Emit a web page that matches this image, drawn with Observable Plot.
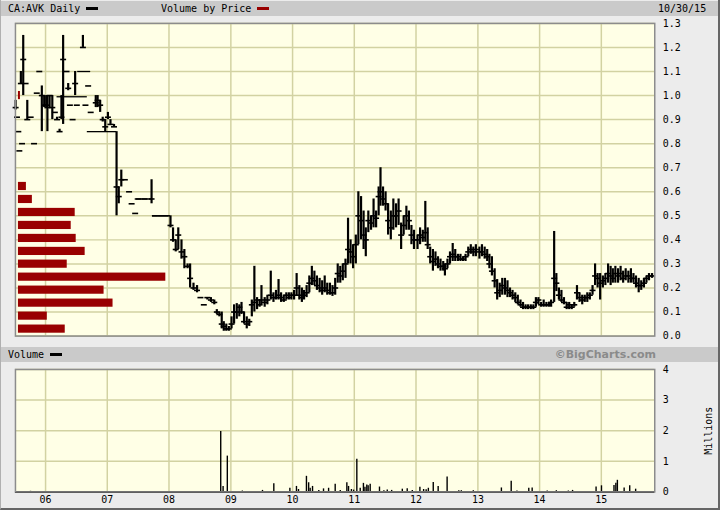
<!DOCTYPE html>
<html>
<head>
<meta charset="utf-8">
<script src="https://cdn.jsdelivr.net/npm/d3@7"></script>
<script src="https://cdn.jsdelivr.net/npm/@observablehq/plot@0.6"></script>
<style>
  body { margin: 0; background: #ececec; }
  #wrap { position: relative; width: 717px; height: 508px; background: #ececec;
          border-left: 1px solid #b0b0b0; border-right: 2px solid #666; border-bottom: 2px solid #666;
          font-family: "DejaVu Sans Mono", monospace; font-size: 10px; color: #000; overflow: hidden; }
  .bar { position: absolute; left: 0; width: 717px; height: 15px; background: #cacaca; }
  .lbl { position: absolute; top: 0; line-height: 15px; white-space: nowrap; }
  .sw { display: inline-block; width: 12px; height: 3px; vertical-align: middle; margin-left: 6px; margin-bottom: 2px; }
  .layer { position: absolute; left: 0; }
</style>
</head>
<body>
<div id="wrap">
  <div class="bar" style="top:1px">
    <span class="lbl" style="left:7px">CA:AVK Daily<span class="sw" style="background:#000"></span></span>
    <span class="lbl" style="left:160px">Volume by Price<span class="sw" style="background:#990000"></span></span>
    <span class="lbl" style="left:657px">10/30/15</span>
  </div>
  <div class="layer" id="price" style="top:0"></div>
  <div class="layer" id="vbp" style="top:0"></div>
  <div class="bar" style="top:347px">
    <span class="lbl" style="left:7px">Volume<span class="sw" style="background:#000"></span></span>
    <span class="lbl" style="right:62px;font-family:'DejaVu Sans',sans-serif;font-weight:bold;font-size:11px;color:#8a8a8a">©BigCharts.com</span>
  </div>
  <div class="layer" id="volume" style="top:359px"></div>
</div>
<script>
// date, high, low, close
const p2005 = [
  ["2005-07-08", 0.98, 0.94, 0.95], ["2005-07-16", 0.91, 0.91, 0.91], ["2005-07-24", 0.85, 0.85, 0.85],
  ["2005-07-30", 0.77, 0.77, 0.77], ["2005-08-08", 1.10, 1.05, 1.05], ["2005-08-15", 0.80, 0.80, 0.80],
  ["2005-08-22", 1.25, 1.00, 1.15], ["2005-09-05", 1.05, 1.05, 1.05], ["2005-09-15", 0.98, 0.90, 0.90],
  ["2005-10-05", 0.91, 0.91, 0.91], ["2005-10-25", 0.80, 0.80, 0.80], ["2005-11-10", 1.01, 1.01, 1.01],
  ["2005-11-25", 1.10, 1.10, 1.10], ["2005-12-10", 1.04, 0.85, 1.00], ["2005-12-24", 1.00, 0.95, 0.96]
];
const p2006 = [
  ["2006-01-05", 1.00, 0.95, 0.96], ["2006-01-12", 1.00, 0.85, 0.95], ["2006-01-25", 1.00, 0.95, 1.00],
  ["2006-02-10", 1.00, 0.90, 0.95], ["2006-02-25", 0.93, 0.93, 0.93], ["2006-03-10", 0.91, 0.90, 0.90],
  ["2006-03-25", 0.86, 0.85, 0.85], ["2006-04-05", 1.00, 0.90, 0.91], ["2006-04-15", 1.25, 0.88, 1.15],
  ["2006-05-05", 1.10, 1.10, 1.10], ["2006-05-15", 1.05, 1.02, 1.03], ["2006-05-25", 0.96, 0.96, 0.96],
  ["2006-06-10", 0.90, 0.90, 0.90], ["2006-06-25", 1.10, 1.00, 1.05], ["2006-07-05", 0.96, 0.96, 0.96],
  ["2006-08-10", 1.25, 1.20, 1.20], ["2006-08-25", 0.96, 0.96, 0.96], ["2006-09-10", 1.04, 1.04, 1.04],
  ["2006-09-25", 0.93, 0.93, 0.93], ["2006-10-25", 1.00, 0.95, 0.97], ["2006-11-05", 1.00, 0.95, 0.98],
  ["2006-11-20", 0.98, 0.93, 0.96], ["2006-12-05", 0.91, 0.89, 0.90], ["2006-12-20", 0.90, 0.85, 0.87]
];
const p2007 = [
  ["2007-01-05", 0.93, 0.90, 0.91], ["2007-01-20", 0.90, 0.88, 0.88], ["2007-02-10", 0.88, 0.87, 0.87],
  ["2007-02-25", 0.85, 0.50, 0.62], ["2007-03-10", 0.62, 0.55, 0.58], ["2007-03-25", 0.69, 0.62, 0.65],
  ["2007-04-15", 0.65, 0.65, 0.65], ["2007-05-10", 0.60, 0.60, 0.60], ["2007-05-25", 0.55, 0.55, 0.55],
  ["2007-06-15", 0.51, 0.51, 0.51], ["2007-07-05", 0.57, 0.57, 0.57], ["2007-08-10", 0.57, 0.57, 0.57],
  ["2007-09-20", 0.65, 0.55, 0.57], ["2007-10-10", 0.50, 0.50, 0.50], ["2007-11-15", 0.50, 0.50, 0.50],
  ["2007-12-20", 0.50, 0.50, 0.50]
];
const p2008 = [
  ["2008-01-10", 0.50, 0.45, 0.46], ["2008-01-25", 0.45, 0.39, 0.40], ["2008-02-10", 0.40, 0.35, 0.36],
  ["2008-02-25", 0.45, 0.36, 0.42], ["2008-03-15", 0.40, 0.32, 0.35], ["2008-04-01", 0.36, 0.28, 0.33],
  ["2008-04-20", 0.30, 0.28, 0.29], ["2008-05-05", 0.30, 0.20, 0.24], ["2008-05-25", 0.22, 0.19, 0.20],
  ["2008-06-15", 0.21, 0.18, 0.19], ["2008-07-05", 0.16, 0.16, 0.16], ["2008-07-25", 0.13, 0.13, 0.13],
  ["2008-08-15", 0.16, 0.15, 0.16], ["2008-09-05", 0.16, 0.14, 0.15], ["2008-09-25", 0.15, 0.13, 0.14],
  ["2008-10-10", 0.11, 0.09, 0.10], ["2008-10-25", 0.10, 0.08, 0.09], ["2008-11-08", 0.10, 0.03, 0.05],
  ["2008-11-20", 0.06, 0.02, 0.04], ["2008-12-05", 0.05, 0.02, 0.03], ["2008-12-20", 0.04, 0.02, 0.03]
];
const p2009 = [
  ["2009-01-05", 0.08, 0.03, 0.05], ["2009-01-20", 0.13, 0.05, 0.10], ["2009-02-05", 0.135, 0.07, 0.10],
  ["2009-02-20", 0.13, 0.08, 0.12], ["2009-03-05", 0.14, 0.09, 0.10], ["2009-03-20", 0.10, 0.05, 0.06],
  ["2009-04-05", 0.08, 0.03, 0.05], ["2009-04-20", 0.07, 0.04, 0.06], ["2009-05-05", 0.15, 0.08, 0.13],
  ["2009-05-20", 0.29, 0.10, 0.14], ["2009-06-05", 0.16, 0.11, 0.15], ["2009-06-20", 0.15, 0.12, 0.13],
  ["2009-07-01", 0.21, 0.13, 0.15], ["2009-07-20", 0.16, 0.12, 0.14], ["2009-08-05", 0.17, 0.13, 0.15],
  ["2009-08-25", 0.27, 0.15, 0.17], ["2009-09-10", 0.18, 0.14, 0.16], ["2009-09-25", 0.19, 0.15, 0.16],
  ["2009-10-10", 0.235, 0.15, 0.17], ["2009-10-25", 0.18, 0.14, 0.16], ["2009-11-10", 0.17, 0.14, 0.15],
  ["2009-11-25", 0.18, 0.15, 0.17], ["2009-12-10", 0.18, 0.15, 0.16], ["2009-12-25", 0.18, 0.15, 0.17]
];
const p2010 = [
  ["2010-01-10", 0.19, 0.15, 0.17], ["2010-01-25", 0.26, 0.165, 0.20], ["2010-02-10", 0.21, 0.15, 0.17],
  ["2010-02-25", 0.20, 0.14, 0.16], ["2010-03-10", 0.19, 0.15, 0.17], ["2010-03-25", 0.21, 0.16, 0.18],
  ["2010-04-10", 0.25, 0.18, 0.22], ["2010-04-25", 0.29, 0.21, 0.24], ["2010-05-10", 0.27, 0.21, 0.23],
  ["2010-05-25", 0.25, 0.19, 0.21], ["2010-06-10", 0.24, 0.18, 0.20], ["2010-06-25", 0.23, 0.17, 0.19],
  ["2010-07-10", 0.25, 0.18, 0.20], ["2010-07-25", 0.22, 0.17, 0.19], ["2010-08-10", 0.22, 0.17, 0.18],
  ["2010-08-25", 0.21, 0.165, 0.18], ["2010-09-10", 0.24, 0.17, 0.20], ["2010-09-25", 0.30, 0.22, 0.26],
  ["2010-10-10", 0.29, 0.22, 0.25], ["2010-10-25", 0.30, 0.23, 0.27], ["2010-11-10", 0.32, 0.24, 0.30],
  ["2010-11-25", 0.49, 0.30, 0.36], ["2010-12-10", 0.40, 0.30, 0.35], ["2010-12-25", 0.38, 0.28, 0.33]
];
const p2011 = [
  ["2011-01-10", 0.42, 0.30, 0.38], ["2011-01-25", 0.60, 0.38, 0.50], ["2011-02-10", 0.58, 0.40, 0.48],
  ["2011-02-25", 0.52, 0.36, 0.42], ["2011-03-10", 0.45, 0.33, 0.40], ["2011-03-25", 0.52, 0.43, 0.48],
  ["2011-04-10", 0.50, 0.44, 0.47], ["2011-04-25", 0.57, 0.45, 0.50], ["2011-05-10", 0.52, 0.45, 0.49],
  ["2011-05-25", 0.62, 0.50, 0.58], ["2011-06-05", 0.70, 0.54, 0.60], ["2011-06-20", 0.62, 0.54, 0.57],
  ["2011-07-05", 0.60, 0.52, 0.55], ["2011-07-20", 0.55, 0.42, 0.48], ["2011-08-05", 0.52, 0.40, 0.45],
  ["2011-08-20", 0.57, 0.44, 0.50], ["2011-09-05", 0.55, 0.45, 0.50], ["2011-09-20", 0.57, 0.46, 0.52],
  ["2011-10-05", 0.47, 0.36, 0.42], ["2011-10-20", 0.50, 0.42, 0.46], ["2011-11-05", 0.54, 0.44, 0.50],
  ["2011-11-20", 0.52, 0.44, 0.48], ["2011-12-05", 0.46, 0.38, 0.42], ["2011-12-20", 0.44, 0.36, 0.40]
];
const p2012 = [
  ["2012-01-10", 0.42, 0.36, 0.40], ["2012-01-25", 0.45, 0.38, 0.42], ["2012-02-10", 0.44, 0.39, 0.41],
  ["2012-02-25", 0.56, 0.39, 0.43], ["2012-03-10", 0.45, 0.36, 0.38], ["2012-03-25", 0.37, 0.30, 0.33],
  ["2012-04-10", 0.36, 0.27, 0.31], ["2012-04-25", 0.35, 0.29, 0.32], ["2012-05-10", 0.33, 0.28, 0.30],
  ["2012-05-25", 0.32, 0.27, 0.29], ["2012-06-10", 0.31, 0.27, 0.29], ["2012-06-20", 0.30, 0.25, 0.28],
  ["2012-07-05", 0.32, 0.28, 0.30], ["2012-07-20", 0.35, 0.30, 0.33], ["2012-08-05", 0.385, 0.31, 0.34],
  ["2012-08-20", 0.36, 0.31, 0.33], ["2012-09-05", 0.34, 0.31, 0.33], ["2012-09-20", 0.34, 0.31, 0.32],
  ["2012-10-05", 0.33, 0.31, 0.32], ["2012-10-20", 0.34, 0.31, 0.33], ["2012-11-05", 0.37, 0.33, 0.35],
  ["2012-11-20", 0.38, 0.34, 0.36], ["2012-12-05", 0.37, 0.33, 0.35], ["2012-12-20", 0.38, 0.33, 0.36]
];
const p2013 = [
  ["2013-01-10", 0.37, 0.32, 0.35], ["2013-01-25", 0.38, 0.33, 0.35], ["2013-02-10", 0.37, 0.32, 0.34],
  ["2013-02-25", 0.36, 0.31, 0.33], ["2013-03-10", 0.34, 0.28, 0.30], ["2013-03-25", 0.33, 0.25, 0.27],
  ["2013-04-10", 0.28, 0.20, 0.23], ["2013-04-25", 0.235, 0.15, 0.18], ["2013-05-10", 0.22, 0.16, 0.19],
  ["2013-05-25", 0.24, 0.17, 0.21], ["2013-06-10", 0.24, 0.17, 0.20], ["2013-06-25", 0.23, 0.16, 0.19],
  ["2013-07-10", 0.20, 0.16, 0.18], ["2013-07-25", 0.19, 0.15, 0.17], ["2013-08-10", 0.18, 0.14, 0.16],
  ["2013-08-25", 0.17, 0.13, 0.14], ["2013-09-10", 0.15, 0.12, 0.13], ["2013-09-25", 0.14, 0.11, 0.12],
  ["2013-10-10", 0.13, 0.11, 0.12], ["2013-10-25", 0.13, 0.11, 0.12], ["2013-11-10", 0.13, 0.11, 0.12],
  ["2013-11-25", 0.13, 0.11, 0.12], ["2013-12-10", 0.16, 0.12, 0.14], ["2013-12-25", 0.16, 0.13, 0.15]
];
const p2014 = [
  ["2014-01-10", 0.14, 0.12, 0.13], ["2014-01-25", 0.15, 0.12, 0.13], ["2014-02-10", 0.14, 0.12, 0.13],
  ["2014-02-25", 0.14, 0.12, 0.13], ["2014-03-10", 0.15, 0.12, 0.14], ["2014-03-28", 0.435, 0.14, 0.24],
  ["2014-04-10", 0.26, 0.185, 0.22], ["2014-04-25", 0.20, 0.15, 0.17], ["2014-05-10", 0.19, 0.14, 0.15],
  ["2014-05-25", 0.16, 0.13, 0.14], ["2014-06-10", 0.14, 0.11, 0.12], ["2014-06-25", 0.14, 0.11, 0.13],
  ["2014-07-10", 0.13, 0.11, 0.12], ["2014-07-25", 0.14, 0.12, 0.13], ["2014-08-10", 0.21, 0.15, 0.18],
  ["2014-08-25", 0.18, 0.14, 0.16], ["2014-09-10", 0.17, 0.13, 0.15], ["2014-09-25", 0.17, 0.14, 0.16],
  ["2014-10-10", 0.18, 0.14, 0.16], ["2014-10-25", 0.18, 0.15, 0.17], ["2014-11-10", 0.21, 0.17, 0.19],
  ["2014-11-25", 0.30, 0.21, 0.25], ["2014-12-10", 0.26, 0.20, 0.24], ["2014-12-25", 0.26, 0.15, 0.22]
];
const p2015 = [
  ["2015-01-10", 0.25, 0.20, 0.23], ["2015-01-25", 0.26, 0.21, 0.24], ["2015-02-10", 0.30, 0.22, 0.26],
  ["2015-02-25", 0.29, 0.21, 0.25], ["2015-03-10", 0.28, 0.22, 0.24], ["2015-03-25", 0.29, 0.22, 0.26],
  ["2015-04-10", 0.28, 0.22, 0.25], ["2015-04-25", 0.29, 0.23, 0.26], ["2015-05-10", 0.27, 0.22, 0.24],
  ["2015-05-25", 0.28, 0.23, 0.25], ["2015-06-10", 0.27, 0.22, 0.25], ["2015-06-25", 0.28, 0.22, 0.24],
  ["2015-07-10", 0.26, 0.22, 0.24], ["2015-07-25", 0.25, 0.20, 0.22], ["2015-08-10", 0.24, 0.18, 0.21],
  ["2015-08-25", 0.23, 0.19, 0.21], ["2015-09-10", 0.24, 0.20, 0.22], ["2015-09-25", 0.25, 0.22, 0.24],
  ["2015-10-10", 0.26, 0.23, 0.25], ["2015-10-28", 0.26, 0.24, 0.25]
];
// stretches with no trades: start, end, price carried
const flats = [
  ["2006-03-10", "2006-09-05", 0.995], ["2006-09-05", "2007-02-25", 0.85],
  ["2006-07-10", "2006-09-25", 1.10], ["2007-06-15", "2007-09-20", 0.57],
  ["2007-09-25", "2007-12-31", 0.50]
];
// volume by price (millions of shares per price band)
const vbpPrice = [0.029, 0.083, 0.137, 0.191, 0.245, 0.299, 0.352, 0.406, 0.460, 0.514, 0.568, 0.622, 1.0];
const vbpVolume = [4.7, 2.9, 9.5, 8.6, 14.8, 4.9, 6.7, 5.8, 5.3, 5.7, 1.4, 0.8, 0.2];
// daily volume spikes, millions
const volume = [
  ["2005-10-04", 0.02], ["2008-11-02", 1.97], ["2008-11-16", 0.18], ["2008-12-11", 1.17],
  ["2009-03-10", 0.03], ["2009-07-07", 0.05], ["2009-09-12", 0.27], ["2009-12-16", 0.12],
  ["2010-01-24", 0.18], ["2010-02-05", 0.08], ["2010-03-24", 0.51], ["2010-04-06", 0.30],
  ["2010-04-15", 0.12], ["2010-04-29", 0.18], ["2010-06-05", 0.05], ["2010-07-03", 0.10],
  ["2010-08-02", 0.12], ["2010-09-10", 0.25], ["2010-10-10", 0.05], ["2010-11-18", 0.30],
  ["2010-11-28", 0.18], ["2010-12-15", 0.08], ["2010-12-28", 0.06], ["2011-01-16", 1.07],
  ["2011-02-05", 0.12], ["2011-02-24", 0.28], ["2011-03-05", 0.15], ["2011-03-16", 0.23],
  ["2011-03-24", 0.20], ["2011-04-05", 0.25], ["2011-05-30", 0.16], ["2011-06-25", 0.04],
  ["2011-07-15", 0.06], ["2011-08-10", 0.05], ["2011-10-12", 0.09], ["2011-11-10", 0.10],
  ["2011-12-10", 0.05], ["2012-01-24", 0.15], ["2012-02-15", 0.08], ["2012-03-01", 0.07],
  ["2012-03-14", 0.12], ["2012-04-12", 0.31], ["2012-05-11", 0.18], ["2012-07-03", 0.49],
  ["2012-09-10", 0.04], ["2012-09-25", 0.04], ["2012-12-05", 0.04], ["2013-05-20", 0.13],
  ["2013-07-17", 0.35], ["2013-08-20", 0.03], ["2013-10-29", 0.12], ["2013-11-18", 0.13],
  ["2014-02-15", 0.03], ["2014-04-10", 0.04], ["2014-06-20", 0.03], ["2014-07-15", 0.05],
  ["2014-12-01", 0.16], ["2015-01-02", 0.20], ["2015-03-17", 0.21], ["2015-03-28", 0.28],
  ["2015-04-06", 0.38], ["2015-05-16", 0.13], ["2015-06-18", 0.20], ["2015-07-23", 0.09]
];
const priceTicks = [0, 0.1, 0.2, 0.3, 0.4, 0.5, 0.6, 0.7, 0.8, 0.9, 1.0, 1.1, 1.2, 1.3];
const volumeTicks = [0, 1, 2, 3, 4];
const yearTicks = [2006, 2007, 2008, 2009, 2010, 2011, 2012, 2013, 2014, 2015];
const yearLabels = ["06", "07", "08", "09", "10", "11", "12", "13", "14", "15"];

const parse = d3.utcParse("%Y-%m-%d");
const prices = [p2005, p2006, p2007, p2008, p2009, p2010, p2011, p2012, p2013, p2014, p2015].flat()
  .map(([d, high, low, close]) => ({date: parse(d), high, low, close}));
const gaps = flats.map(([a, b, p]) => ({start: parse(a), end: parse(b), price: p}));
const vbp = vbpPrice.map((p, i) => ({price: p, vol: vbpVolume[i]}));
const vols = volume.map(([d, v]) => ({date: parse(d), v}));
const years = yearTicks.map(y => new Date(Date.UTC(y, 0, 1)));
const labelOf = d => yearLabels[yearTicks.indexOf(d.getUTCFullYear())];

const xDomain = [parse("2005-07-07"), parse("2015-11-13")];
const paper = "#ffffe6";
const gridColor = "#d2d2a2";
const font = {background: "transparent", fontFamily: "DejaVu Sans Mono, monospace", fontSize: "10px", color: "#000", overflow: "visible"};
const tick = {draw(ctx) { ctx.moveTo(-3, 0); ctx.lineTo(3, 0); }};

const price = Plot.plot({
  width: 720, height: 340,
  marginTop: 23, marginBottom: 3, marginLeft: 14, marginRight: 64,
  style: font,
  x: {type: "utc", domain: xDomain, axis: null},
  y: {domain: [0, 1.3], axis: null},
  marks: [
    Plot.frame({fill: paper, stroke: null}),
    Plot.gridX(years, {stroke: gridColor, strokeOpacity: 1, strokeWidth: 1.5}),
    Plot.gridY(priceTicks, {stroke: gridColor, strokeOpacity: 1, strokeWidth: 1.5}),
    Plot.ruleY(gaps, {x1: "start", x2: "end", y: "price", stroke: "#000", strokeWidth: 1.3}),
    Plot.ruleX(prices, {x: "date", y1: "low", y2: "high", stroke: "#000", strokeWidth: 2.2}),
    Plot.dot(prices, {x: "date", y: "close", symbol: tick, fill: "none", stroke: "#000", strokeWidth: 1.6}),
    Plot.frame({stroke: "#8c8c8c", strokeWidth: 1.5}),
    Plot.axisY(priceTicks, {anchor: "right", tickSize: 0, tickPadding: 8, tickFormat: d3.format(".1f"), label: null})
  ]
});
document.getElementById("price").append(price);

const vbpChart = Plot.plot({
  width: 720, height: 340,
  marginTop: 23, marginBottom: 3, marginLeft: 14, marginRight: 64,
  style: font,
  x: {domain: [0, 14.8], range: [17, 165], axis: null},
  y: {domain: [0, 1.3], axis: null},
  marks: [
    Plot.rectX(vbp, {x: "vol", y1: d => d.price - 0.017, y2: d => d.price + 0.017, fill: "#990000"})
  ]
});
document.getElementById("vbp").append(vbpChart);

const volChart = Plot.plot({
  width: 720, height: 151,
  marginTop: 10, marginBottom: 18, marginLeft: 14, marginRight: 64,
  style: font,
  x: {type: "utc", domain: xDomain, axis: null},
  y: {domain: [0, 4], axis: null},
  marks: [
    Plot.frame({fill: paper, stroke: null}),
    Plot.gridX(years, {stroke: gridColor, strokeOpacity: 1, strokeWidth: 1.5}),
    Plot.gridY(volumeTicks, {stroke: gridColor, strokeOpacity: 1, strokeWidth: 1.5}),
    Plot.ruleX(vols, {x: "date", y1: 0, y2: "v", stroke: "#000", strokeWidth: 1.4}),
    Plot.ruleY([0], {stroke: "#000", strokeWidth: 2}),
    Plot.frame({stroke: "#8c8c8c", strokeWidth: 1.5}),
    Plot.axisY(volumeTicks, {anchor: "right", tickSize: 0, tickPadding: 8, label: "Millions",
      labelAnchor: "center", labelArrow: "none", labelOffset: 57}),
    Plot.axisX(years, {anchor: "bottom", tickSize: 0, tickPadding: 4, tickFormat: labelOf, label: null})
  ]
});
document.getElementById("volume").append(volChart);
</script>
</body>
</html>
